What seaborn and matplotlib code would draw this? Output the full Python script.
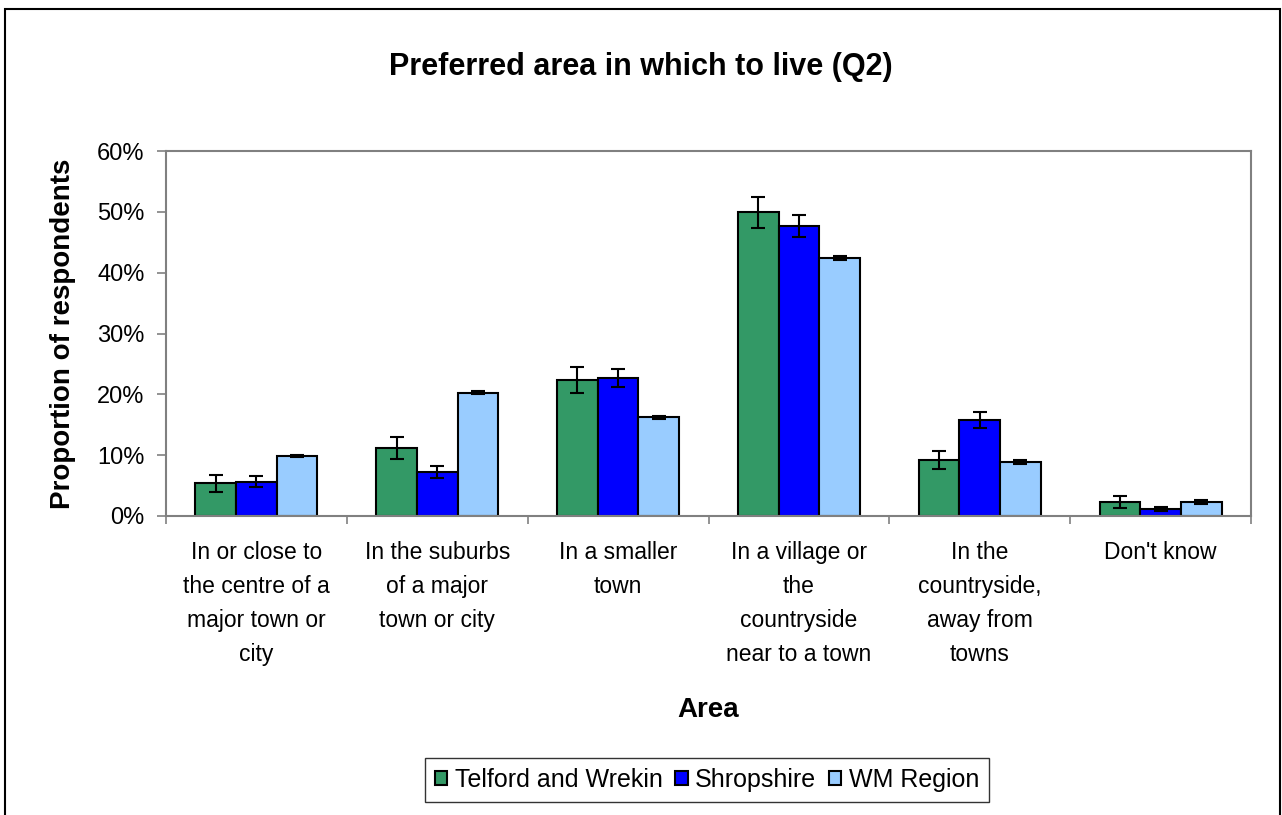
import pandas as pd
import numpy as np
import matplotlib
matplotlib.use("Agg")
import matplotlib.pyplot as plt
import seaborn as sns
from matplotlib.patches import Rectangle
from matplotlib.ticker import PercentFormatter, FixedLocator

areas = ["In or close to\nthe centre of a\nmajor town or\ncity",
         "In the suburbs\nof a major\ntown or city",
         "In a smaller\ntown",
         "In a village or\nthe\ncountryside\nnear to a town",
         "In the\ncountryside,\naway from\ntowns",
         "Don't know"]
series = ["Telford and Wrekin", "Shropshire", "WM Region"]

telford = [5.4, 11.2, 22.4, 49.9, 9.2, 2.35]
shropshire = [5.6, 7.3, 22.7, 47.6, 15.8, 1.1]
wm_region = [9.9, 20.3, 16.2, 42.4, 8.9, 2.35]

telford_err = [1.4, 1.8, 2.1, 2.6, 1.5, 1.0]
shropshire_err = [0.9, 1.0, 1.5, 1.8, 1.3, 0.3]
wm_err = [0.2, 0.3, 0.3, 0.3, 0.3, 0.3]

colors = ["#339966", "#0000FF", "#99CCFF"]

df = pd.DataFrame({
    "Area": areas * 3,
    "Series": np.repeat(series, len(areas)),
    "Value": telford + shropshire + wm_region,
})
errs = [telford_err, shropshire_err, wm_err]

sns.set_style("white")
plt.rcParams["font.family"] = ["Liberation Sans", "DejaVu Sans"]
plt.rcParams["text.color"] = "black"
plt.rcParams["xtick.color"] = "black"
plt.rcParams["ytick.color"] = "black"
plt.rcParams["axes.labelcolor"] = "black"

fig = plt.figure(figsize=(12.82, 8.15), dpi=100)
ax = fig.add_axes([166 / 1282, 1 - 516 / 815, 1085 / 1282, 365 / 815])

sns.barplot(data=df, x="Area", y="Value", hue="Series", palette=colors,
            width=0.675, gap=0, edgecolor="black", linewidth=1.5,
            saturation=1, ax=ax, legend=True)

# error bars on top of each bar
for cont, e in zip(ax.containers, errs):
    xs = [b.get_x() + b.get_width() / 2 for b in cont]
    ys = [b.get_height() for b in cont]
    ax.errorbar(xs, ys, yerr=e, fmt="none", ecolor="black", elinewidth=1.5,
                capsize=5, capthick=1.5, zorder=5)

ax.set_ylim(0, 60)
ax.set_xlim(-0.5, 5.5)
ax.yaxis.set_major_formatter(PercentFormatter(decimals=0))
ax.set_yticks(range(0, 61, 10))
ax.tick_params(axis="y", which="major", length=6.5, width=1.2, color="#808080",
               direction="out", labelsize=17, left=True, pad=9)
ax.tick_params(axis="x", which="major", length=0, labelsize=16.5, pad=18)
ax.xaxis.set_minor_locator(FixedLocator(np.arange(-0.5, 6, 1)))
ax.tick_params(axis="x", which="minor", length=6, width=1.2, color="#808080",
               direction="out", bottom=True)
for lab in ax.get_xticklabels():
    lab.set_linespacing(1.62)
    lab.set_verticalalignment("top")

for s in ax.spines.values():
    s.set_visible(True)
    s.set_color("#808080")
    s.set_linewidth(1.5)

ax.set_xlabel("Area", fontsize=20, fontweight="bold", labelpad=22)
ax.set_ylabel("Proportion of respondents", fontsize=20, fontweight="bold", labelpad=15)
fig.suptitle("Preferred area in which to live (Q2)", fontsize=22, fontweight="bold",
             x=0.5, y=1 - 67 / 815, va="center")

ax.legend(loc="center", bbox_to_anchor=(707 / 1282, 1 - 780 / 815),
          bbox_transform=fig.transFigure, ncol=3, frameon=True, fancybox=False,
          edgecolor="black", fontsize=18, handlelength=0.5, handleheight=0.5,
          handletextpad=0.3, columnspacing=0.5, borderpad=0.4)
ax.get_legend().get_frame().set_linewidth(1.0)

fig.patches.append(Rectangle((5 / 1282, -0.01), 1275 / 1282, 1.01 - 9 / 815,
                             transform=fig.transFigure, fill=False,
                             edgecolor="black", linewidth=1.5))

fig.savefig("out.png", dpi=100)
